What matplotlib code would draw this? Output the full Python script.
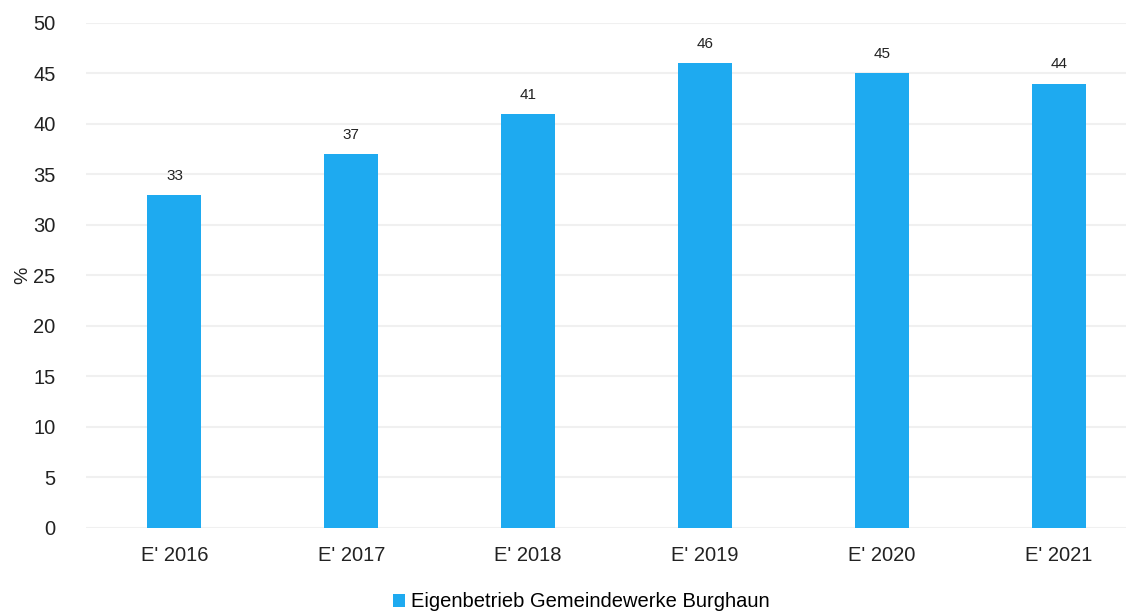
import matplotlib
matplotlib.use('Agg')
import matplotlib.pyplot as plt

plt.rcParams['font.family'] = ['Liberation Sans', 'DejaVu Sans']

categories = ["E' 2016", "E' 2017", "E' 2018", "E' 2019", "E' 2020", "E' 2021"]
values = [33, 37, 41, 46, 45, 44]
series_name = 'Eigenbetrieb Gemeindewerke Burghaun'
yticks = [0, 5, 10, 15, 20, 25, 30, 35, 40, 45, 50]

bar_color = '#1eaaf0'

fig = plt.figure(figsize=(11.26, 6.13), dpi=100)
ax = fig.add_axes([0.0764, 0.1387, 0.9236, 0.8238])

x = range(len(categories))
bars = ax.bar(x, values, width=0.305, color=bar_color, label=series_name, zorder=3)

for xi, v in zip(x, values):
    ax.text(xi, v + 1.2, str(v), ha='center', va='bottom', fontsize=11, color='#222222')

ax.set_xlim(-0.5, 5.38)
ax.set_ylim(0, 50)
ax.set_yticks(yticks)
ax.set_xticks(list(x))
ax.set_xticklabels(categories)
ax.tick_params(axis='both', length=0, labelsize=14.5, colors='#222222')
ax.tick_params(axis='x', pad=13)
ax.tick_params(axis='y', pad=22)
ax.set_ylabel('%', fontsize=14, color='#222222', labelpad=1)

ax.grid(axis='y', color='#f0f0f0', linewidth=1.5, zorder=0)
for s in ax.spines.values():
    s.set_visible(False)

fig.legend(handles=[bars], labels=[series_name], loc='center',
           bbox_to_anchor=(0.516, 0.018), frameon=False, fontsize=14.5,
           handlelength=0.6, handleheight=0.6, handletextpad=0.3,
           borderaxespad=0)

fig.savefig('out.png', dpi=100)
